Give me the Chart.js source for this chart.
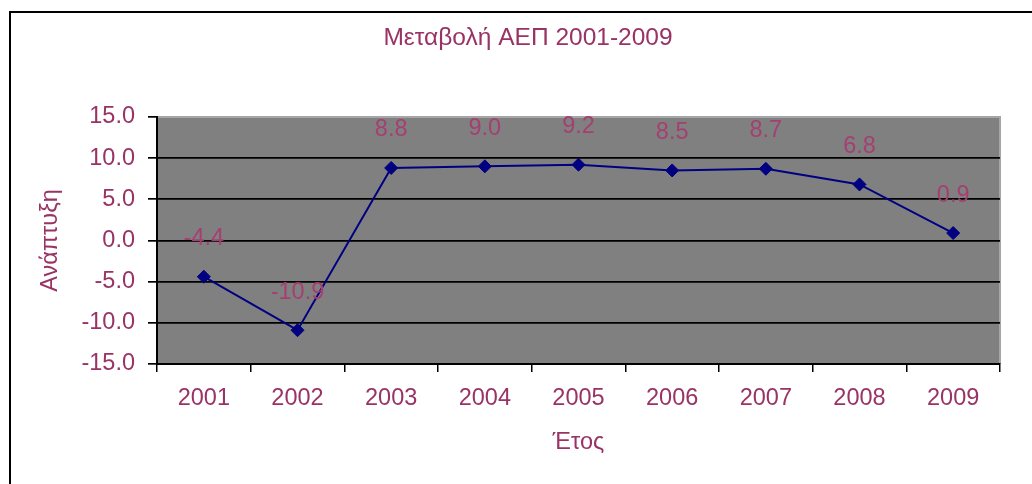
<!DOCTYPE html>
<html>
<head>
<meta charset="utf-8">
<script src="https://cdn.jsdelivr.net/npm/chart.js@4"></script>
<style>
  html, body { margin: 0; padding: 0; background: #fff; overflow: hidden; width: 1032px; height: 484px; }
  #wrap { position: relative; width: 1032px; height: 484px; overflow: hidden; }
  #frame { position: absolute; left: 9px; top: 11px; width: 1200px; height: 600px; border: 2px solid #000; pointer-events: none; }
  canvas { position: absolute; left: 0; top: 0; }
</style>
</head>
<body>
<div id="wrap">
  <canvas id="c" width="1056" height="484"></canvas>
  <div id="frame"></div>
</div>
<script>
const categories = ['2001', '2002', '2003', '2004', '2005', '2006', '2007', '2008', '2009'];
const growth = [-4.4, -10.9, 8.8, 9.0, 9.2, 8.5, 8.7, 6.8, 0.9];
const yTicks = [-15, -10, -5, 0, 5, 10, 15];
const chartTitle = 'Μεταβολή ΑΕΠ 2001-2009';
const xTitle = 'Έτος';
const yTitle = 'Ανάπτυξη';

const TEXT = '#993366';
const LABEL = '#a53f72';
const FAMILY = '"Liberation Sans", Arial, sans-serif';
const FONT = { family: FAMILY, size: 23.5, weight: 'normal' };
const TITLE_FONT = { family: FAMILY, size: 24.5, weight: 'normal' };

const plotBg = {
  id: 'plotBg',
  beforeDraw(chart) {
    const { ctx, chartArea: a } = chart;
    ctx.save();
    ctx.fillStyle = '#808080';
    ctx.fillRect(a.left, a.top, a.right - a.left, a.bottom - a.top);
    ctx.strokeStyle = '#a6a6a6';
    ctx.lineWidth = 2;
    ctx.beginPath();
    ctx.moveTo(a.left, a.top);
    ctx.lineTo(a.right, a.top);
    ctx.lineTo(a.right, a.bottom);
    ctx.stroke();
    ctx.restore();
  }
};

const valueLabels = {
  id: 'valueLabels',
  afterDatasetsDraw(chart) {
    const { ctx } = chart;
    const meta = chart.getDatasetMeta(0);
    const data = chart.data.datasets[0].data;
    ctx.save();
    ctx.fillStyle = LABEL;
    ctx.font = `${FONT.size}px ${FONT.family}`;
    ctx.textAlign = 'center';
    ctx.textBaseline = 'middle';
    meta.data.forEach((el, i) => {
      ctx.fillText(data[i].toFixed(1), el.x, el.y - 38);
    });
    ctx.restore();
  }
};

new Chart(document.getElementById('c'), {
  type: 'line',
  data: {
    labels: categories,
    datasets: [{
      data: growth,
      borderColor: '#000080',
      borderWidth: 2,
      backgroundColor: '#000080',
      pointStyle: 'rectRot',
      pointRadius: 6.5,
      pointBackgroundColor: '#000080',
      pointBorderColor: '#000080',
      pointBorderWidth: 1,
      tension: 0,
      fill: false,
      yAxisID: 'y'
    }]
  },
  options: {
    responsive: false,
    animation: false,
    devicePixelRatio: 1,
    layout: { padding: { left: 0, right: 0, top: 0, bottom: 0 } },
    plugins: {
      legend: { display: false },
      tooltip: { enabled: false },
      title: {
        display: true,
        text: chartTitle,
        color: TEXT,
        font: TITLE_FONT,
        padding: { top: 24, bottom: 63.5 }
      }
    },
    scales: {
      x: {
        type: 'category',
        offset: true,
        grid: { offset: true, drawOnChartArea: false, drawTicks: true, tickLength: 8, color: '#000', lineWidth: 1.5 },
        border: { display: true, color: '#000', width: 2 },
        ticks: { color: TEXT, font: FONT, padding: 12, maxRotation: 0, autoSkip: false },
        title: { display: true, text: xTitle, color: TEXT, font: FONT, padding: { top: 0, bottom: 27 } },
        afterFit(s) { s.height = 120; }
      },
      y: {
        position: 'left',
        min: -15,
        max: 15,
        afterBuildTicks(s) { s.ticks = yTicks.map(v => ({ value: v })); },
        ticks: { color: TEXT, font: FONT, padding: 13, callback: v => Number(v).toFixed(1) },
        grid: {
          color: c => (c.tick && c.tick.value === 15) ? 'rgba(0,0,0,0)' : '#000',
          tickColor: '#000',
          lineWidth: 1.7,
          tickLength: 9,
          drawTicks: true
        },
        border: { display: true, color: '#000', width: 2 },
        title: { display: true, text: yTitle, color: TEXT, font: FONT, padding: { top: 36, bottom: 0 } },
        afterFit(s) { s.width = 157; }
      },
      y2: {
        position: 'right',
        display: true,
        grid: { display: false, drawTicks: false },
        border: { display: false },
        ticks: { display: false },
        afterFit(s) { s.width = 56; }
      }
    }
  },
  plugins: [plotBg, valueLabels]
});
</script>
</body>
</html>
